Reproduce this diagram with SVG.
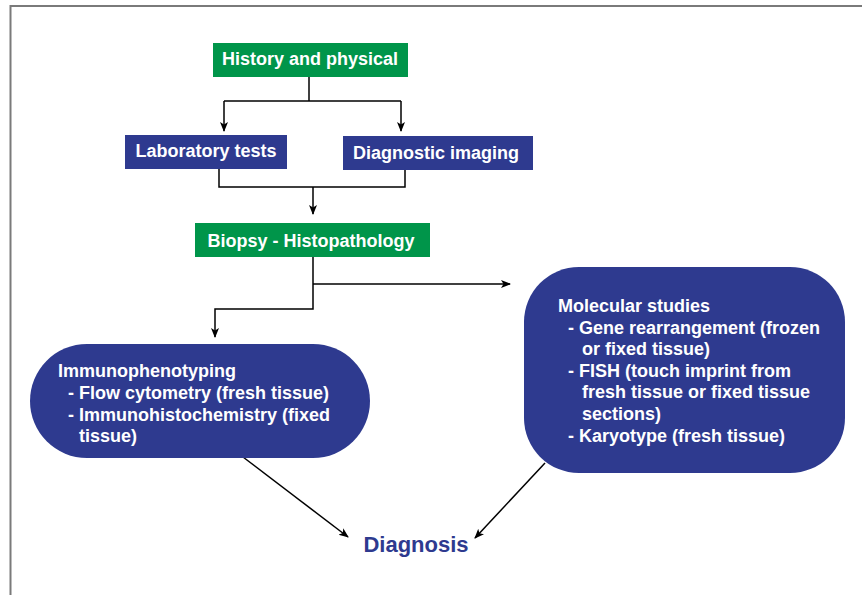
<svg xmlns="http://www.w3.org/2000/svg" width="862" height="595" viewBox="0 0 862 595">
<style>
.g{fill:#00954a}
.b{fill:#2e3a8f}
.t{font-family:"Liberation Sans",Arial,sans-serif;font-weight:bold;font-size:18px;fill:#fff}
.c{stroke:#000;stroke-width:1.5;fill:none}
.a{marker-end:url(#ah)}
</style>
<defs>
<marker id="ah" viewBox="0 0 10 10" refX="9" refY="5" markerWidth="10" markerHeight="10" markerUnits="userSpaceOnUse" orient="auto">
<path d="M0,1 L10,5 L0,9 L2.5,5 Z" fill="#000"/>
</marker>
</defs>
<rect width="862" height="595" fill="#fff"/>
<path d="M10.5,595 V6 H862" fill="none" stroke="#7a7a7a" stroke-width="2"/>
<g id="connectors">
<path class="c" d="M309,77 V101"/>
<path class="c" d="M224,101 H401"/>
<path class="c a" d="M224,101 V131"/>
<path class="c a" d="M401,101 V131"/>
<path class="c" d="M219,169 V187 H405 V170"/>
<path class="c a" d="M313,187 V214"/>
<path class="c a" d="M313,257 V309 H215 V337"/>
<path class="c a" d="M313,284 H510"/>
<path class="c a" d="M243,457 L348,537"/>
<path class="c a" d="M545,463 L475,538"/>
</g>
<g id="history">
<rect class="g" x="213" y="43" width="195" height="34"/>
<text class="t" x="310" y="65" text-anchor="middle">History and physical</text>
</g>
<g id="lab">
<rect class="b" x="125" y="135" width="162" height="34"/>
<text class="t" x="206" y="157" text-anchor="middle">Laboratory tests</text>
</g>
<g id="imaging">
<rect class="b" x="343" y="136" width="190" height="34"/>
<text class="t" x="436" y="159" text-anchor="middle">Diagnostic imaging</text>
</g>
<g id="biopsy">
<rect class="g" x="195" y="223" width="235" height="34"/>
<text class="t" x="311" y="247" text-anchor="middle">Biopsy - Histopathology</text>
</g>
<g id="immuno">
<rect class="b" x="30" y="344" width="340" height="114" rx="57" ry="57"/>
<text class="t" x="58" y="377">Immunophenotyping</text>
<text class="t" x="68" y="399">- Flow cytometry (fresh tissue)</text>
<text class="t" x="68" y="421">- Immunohistochemistry (fixed</text>
<text class="t" x="79" y="442">tissue)</text>
</g>
<g id="molecular">
<rect class="b" x="524" y="267" width="321" height="206" rx="55" ry="55"/>
<text class="t" x="558" y="312">Molecular studies</text>
<text class="t" x="568" y="334">- Gene rearrangement (frozen</text>
<text class="t" x="582" y="355">or fixed tissue)</text>
<text class="t" x="568" y="377">- FISH (touch imprint from</text>
<text class="t" x="582" y="398">fresh tissue or fixed tissue</text>
<text class="t" x="582" y="420">sections)</text>
<text class="t" x="568" y="442">- Karyotype (fresh tissue)</text>
</g>
<g id="diagnosis">
<text x="416" y="552" text-anchor="middle" font-family="'Liberation Sans',Arial,sans-serif" font-weight="bold" font-size="22" fill="#2e3a8f">Diagnosis</text>
</g>
</svg>
